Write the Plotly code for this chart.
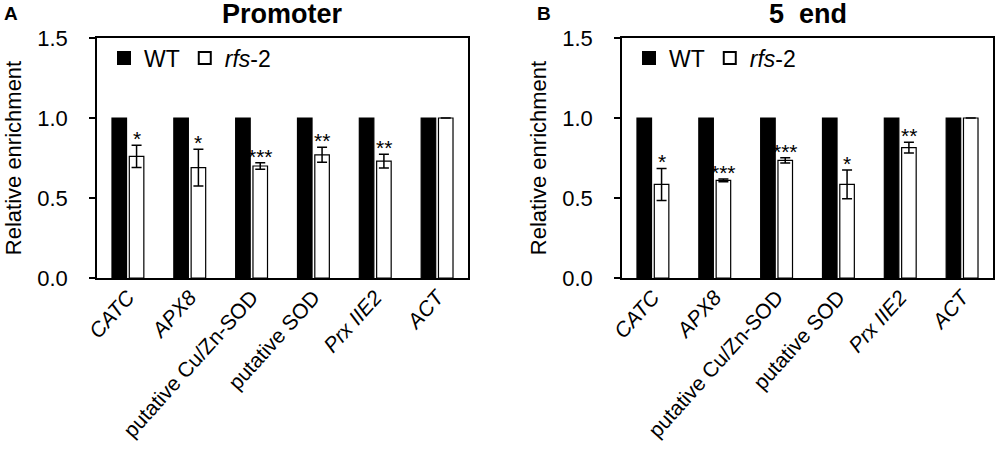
import plotly.graph_objects as go

categories = ["CATC", "APX8", "putative Cu/Zn-SOD", "putative SOD", "Prx IIE2", "ACT"]
tick_labels = ["<i>CATC</i>", "<i>APX8</i>", "putative Cu/Zn-SOD", "putative SOD", "<i>Prx IIE2</i>", "<i>ACT</i>"]

wt_promoter = [1.0, 1.0, 1.0, 1.0, 1.0, 1.0]
rfs_promoter = [0.76, 0.69, 0.70, 0.77, 0.73, 1.0]
rfs_promoter_err = [0.07, 0.115, 0.02, 0.047, 0.043, 0.0]
stars_promoter = ["*", "*", "***", "**", "**", ""]

wt_5end = [1.0, 1.0, 1.0, 1.0, 1.0, 1.0]
rfs_5end = [0.585, 0.61, 0.735, 0.585, 0.815, 1.0]
rfs_5end_err = [0.1, 0.008, 0.016, 0.09, 0.033, 0.0]
stars_5end = ["*", "***", "***", "*", "**", ""]

y_ticks = [0.0, 0.5, 1.0, 1.5]
y_tick_text = ["0.0", "0.5", "1.0", "1.5"]

FONT = "Liberation Sans, Arial, sans-serif"

# plot area in pixels
L, R, T, B = 97, 993, 38, 278
W, H = R - L, B - T


def xp(px):
    return (px - L) / W


def yp(py):
    return (B - py) / H


fig = go.Figure()

panels = [
    ("x", "y", "legend", wt_promoter, rfs_promoter, rfs_promoter_err, stars_promoter),
    ("x2", "y2", "legend2", wt_5end, rfs_5end, rfs_5end_err, stars_5end),
]
for xa, ya, lg, wt, rfs, err, stars in panels:
    fig.add_trace(go.Bar(
        x=categories, y=wt, name="WT", xaxis=xa, yaxis=ya, legend=lg,
        marker=dict(color="black", line=dict(color="black", width=1.2)),
    ))
    fig.add_trace(go.Bar(
        x=categories, y=rfs, name="<i>rfs</i>-2", xaxis=xa, yaxis=ya, legend=lg,
        marker=dict(color="white", line=dict(color="black", width=1.2)),
        error_y=dict(type="data", array=err, visible=True, color="black",
                     thickness=1.5, width=5),
    ))
    for c, v, e, s in zip(categories, rfs, err, stars):
        if s:
            fig.add_annotation(x=c, y=v + e, xref=xa, yref=ya, text=s,
                               showarrow=False, yanchor="bottom", xanchor="center", xshift=8.7,
                               yshift=-7, font=dict(size=21, color="black", family=FONT))

xaxis_common = dict(
    type="category", categoryorder="array", categoryarray=categories,
    tickvals=categories, ticktext=tick_labels, tickangle=-48,
    tickfont=dict(size=21, color="black", family=FONT),
    showline=True, linecolor="black", linewidth=1.5, mirror=True,
    ticks="", showgrid=False, zeroline=False, automargin=False,
    ticklabelstandoff=-3,
)
yaxis_common = dict(
    range=[0, 1.5], tickvals=y_ticks, ticktext=y_tick_text,
    tickfont=dict(size=22, color="black", family=FONT),
    showline=True, linecolor="black", linewidth=1.5, mirror=True,
    ticks="outside", ticklen=6, tickcolor="black", tickwidth=1.5,
    ticklabelstandoff=17,
    showgrid=False, zeroline=False, automargin=False,
    title=dict(text="Relative enrichment", font=dict(size=22, color="black", family=FONT), standoff=10),
)

fig.update_layout(
    width=1000, height=462,
    margin=dict(l=L, r=1000 - R, t=T, b=462 - B, autoexpand=False),
    paper_bgcolor="white", plot_bgcolor="white",
    barmode="group", bargap=0.44, bargroupgap=0.16,
    font=dict(family=FONT, color="black"),
    xaxis=dict(domain=[0, xp(468)], anchor="y", **xaxis_common),
    yaxis=dict(domain=[0, 1], anchor="x", **yaxis_common),
    xaxis2=dict(domain=[xp(622), 1], anchor="y2", **xaxis_common),
    yaxis2=dict(domain=[0, 1], anchor="x2", **yaxis_common),
    legend=dict(orientation="h", x=xp(104), y=yp(58), xanchor="left", yanchor="middle",
                font=dict(size=23, color="black", family=FONT), bgcolor="rgba(0,0,0,0)",
                itemsizing="constant"),
    legend2=dict(orientation="h", x=xp(629), y=yp(58), xanchor="left", yanchor="middle",
                 font=dict(size=23, color="black", family=FONT), bgcolor="rgba(0,0,0,0)",
                 itemsizing="constant"),
    showlegend=True,
)

fig.add_annotation(text="<b>Promoter</b>", x=xp((97 + 468) / 2), y=yp(14), xref="paper", yref="paper",
                   xanchor="center", yanchor="middle",
                   showarrow=False, font=dict(size=27, color="black", family=FONT))
fig.add_annotation(text="<b>5  end</b>", x=xp((622 + 993) / 2), y=yp(14), xref="paper", yref="paper",
                   xanchor="center", yanchor="middle",
                   showarrow=False, font=dict(size=27, color="black", family=FONT))
fig.add_annotation(text="<b>A</b>", x=xp(2), y=yp(14), xref="paper", yref="paper", xanchor="left",
                   yanchor="middle",
                   showarrow=False, font=dict(size=19, color="black", family=FONT))
fig.add_annotation(text="<b>B</b>", x=xp(535), y=yp(14), xref="paper", yref="paper", xanchor="left",
                   yanchor="middle",
                   showarrow=False, font=dict(size=19, color="black", family=FONT))

fig.write_html("out.html", config={"displayModeBar": False},
               post_script="document.body.style.margin='0px';")
